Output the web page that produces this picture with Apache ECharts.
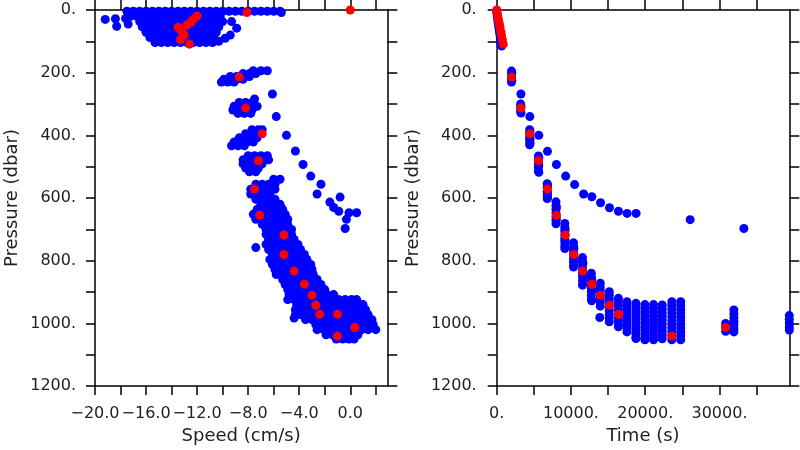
<!DOCTYPE html>
<html>
<head>
<meta charset="utf-8">
<script src="https://cdn.jsdelivr.net/npm/echarts@6/dist/echarts.min.js"></script>
<style>
html,body{margin:0;padding:0;background:#fff;}
#c{width:800px;height:450px;}
</style>
</head>
<body>
<div id="c"></div>
<script>
// ---- tick values / labels ----
const speedTicks = [-20,-18,-16,-14,-12,-10,-8,-6,-4,-2,0,2];
const speedLabels = [-20,-16,-12,-8,-4,0];
const pressureTicks = [0,100,200,300,400,500,600,700,800,900,1000,1100,1200];
const pressureLabels = [0,200,400,600,800,1000,1200];
const timeTicks = [0,5000,10000,15000,20000,25000,30000,35000];
const timeLabels = [0,10000,20000,30000];

// ---- blue: speed vs pressure, rows [pressure, speeds...] ----
const speedRowsBlue = [
 [4, -17.5,-17,-16.5,-16,-15.5,-15,-14.5,-14,-13.5,-13,-12.5,-12,-11.5,-11,-10.5,-10,-9.5,-9,-8.5,-8,-7.5,-7,-6.5,-6,-5.5],
 [20, -17.2,-16.7,-16.2,-15.7,-15.2,-14.7,-14.2,-13.7,-13.2,-12.7,-12.2,-11.7,-11.2,-10.7,-10.2],
 [37, -16.5,-16,-15.5,-15,-14.5,-14,-13.5,-13,-12.5,-12,-11.5,-11,-10.5,-10],
 [54, -16.3,-15.8,-15.3,-14.8,-14.3,-13.8,-13.3,-12.8,-12.3,-11.8,-11.3,-10.8,-10.3],
 [71, -16,-15.5,-15,-14.5,-14,-13.5,-13,-12.5,-12,-11.5,-11,-10.5],
 [88, -15.7,-15.2,-14.7,-14.2,-13.7,-13.2,-12.7,-12.2,-11.7,-11.2,-10.7],
 [104, -15.3,-14.8,-14.3,-13.8,-13.3,-12.8,-12.3,-11.8,-11.3,-10.8],
 [194, -7.6,-7.0,-6.5],
 [203, -8.4,-7.9,-7.4],
 [212, -9.4,-8.9,-8.4,-7.9],
 [221, -9.9,-9.4,-8.9,-8.4],
 [230, -10.1,-9.6,-9.1],
 [268, -6.1],
 [284, -7.5],
 [295, -8.7,-8.2,-7.7],
 [307, -9.1,-8.6,-8.1,-7.6,-7.3],
 [319, -9.2,-8.7,-8.2,-7.7],
 [330, -8.8,-8.3,-7.8],
 [340, -5.8],
 [382, -7.7,-7.2,-6.9],
 [395, -8.2,-7.7,-7.2],
 [400, -5.0],
 [408, -8.7,-8.2,-7.7,-7.3],
 [421, -9.1,-8.6,-8.1,-7.6],
 [433, -9.3,-8.8,-8.3],
 [450, -4.3],
 [465, -8.0,-7.5,-7.0,-6.5],
 [478, -8.4,-7.9,-7.4,-6.9,-6.4],
 [491, -8.4,-7.9,-7.4,-6.9],
 [493, -3.7],
 [504, -8.2,-7.7,-7.2],
 [516, -7.9,-7.4],
 [530, -3.1],
 [540, -6.0,-5.5],
 [556, -7.4,-6.9,-6.4,-5.9,-2.3],
 [572, -7.8,-7.3,-6.8,-6.3,-5.9],
 [587, -7.8,-7.3,-6.8,-6.3,-2.6],
 [597, -0.8],
 [604, -7.4,-6.9,-6.4,-5.9],
 [613, -1.6],
 [620, -7.0,-6.5,-6.0,-5.5],
 [630, -1.3],
 [636, -7.3,-6.8,-6.3,-5.8,-5.3],
 [642, -0.9],
 [647, -0.1,0.5],
 [652, -7.6,-7.1,-6.6,-6.1,-5.6,-5.1],
 [668, -7.4,-6.9,-6.4,-5.9,-5.4,-4.9,-0.3],
 [684, -6.9,-6.4,-5.9,-5.4,-4.9],
 [697, -0.4],
 [700, -6.6,-6.1,-5.6,-5.1,-4.6],
 [716, -6.6,-6.1,-5.6,-5.1,-4.6],
 [732, -6.4,-5.9,-5.4,-4.9,-4.4],
 [748, -6.6,-6.1,-5.6,-5.1,-4.6,-4.1],
 [758, -7.4],
 [764, -6.4,-5.9,-5.4,-4.9,-4.4,-3.9],
 [780, -6.1,-5.6,-5.1,-4.6,-4.1,-3.6],
 [796, -6.3,-5.8,-5.3,-4.8,-4.3,-3.8,-3.4],
 [812, -6.1,-5.6,-5.1,-4.6,-4.1,-3.6,-3.1],
 [828, -5.9,-5.4,-4.9,-4.4,-3.9,-3.4,-3.0],
 [844, -5.8,-5.3,-4.8,-4.3,-3.8,-3.3,-2.9],
 [860, -5.3,-4.8,-4.3,-3.8,-3.3,-2.8,-2.6],
 [876, -5.1,-4.6,-4.1,-3.6,-3.1,-2.6,-2.3],
 [892, -4.9,-4.4,-3.9,-3.4,-2.9,-2.4,-2.0],
 [908, -4.8,-4.3,-3.8,-3.3,-2.8,-2.3,-1.8,-1.3],
 [924, -4.9,-4.4,-3.9,-3.4,-2.9,-2.4,-1.9,-1.4,-0.9,-0.4,0.1,0.5],
 [940, -4.2,-3.7,-3.2,-2.7,-2.2,-1.7,-1.2,-0.7,-0.2,0.3,0.8,1.0],
 [956, -4.3,-3.8,-3.3,-2.8,-2.3,-1.8,-1.3,-0.8,-0.3,0.2,0.7,1.2],
 [972, -4.3,-3.9,-3.4,-2.9,-2.4,-1.9,-1.4,-0.9,-0.4,0.1,0.6,1.1,1.4],
 [983, -4.4],
 [988, -3.5,-3.0,-2.5,-2.0,-1.5,-1.0,-0.5,0.0,0.5,1.0,1.4,1.7],
 [1004, -2.7,-2.2,-1.7,-1.2,-0.7,-0.2,0.3,0.8,1.3,1.8],
 [1020, -2.6,-2.1,-1.6,-1.1,-0.6,-0.1,0.4,0.9,1.4,2.0],
 [1036, -1.9,-1.4,-0.9,-0.4,0.1,0.6],
 [1050, -1.1,-0.6,-0.1,0.3]
];
// isolated blue [speed, pressure]
const speedIsolatedBlue = [[-19.2,30],[-18.4,28],[-18.3,52],[-17.4,45],[-17.6,27],[-9.3,37],[-8.9,58],[-9.4,80],[-9.8,90],[-10.3,100],[-5.4,8]];

// ---- blue: time vs pressure, columns [time, pressures...] ----
const timeColumnsBlue = [
 [1990, 195,207,219,230],
 [2040, 201,225],
 [3220, 300,312,324],
 [3270, 306,329],
 [4440, 382,394,406,418,430],
 [4490, 388,412,425],
 [5620, 466,478,490,502,514],
 [5670, 472,496,518],
 [6800, 554,566,578,590,602],
 [6850, 560,584,598],
 [7980, 612,624,636,648,660,672,682],
 [8030, 630,666],
 [9170, 681,693,705,717,729,741,753,761],
 [9210, 700,735],
 [10350, 743,755,767,779,791,803,815,820],
 [10400, 760,797],
 [11560, 790,802,814,826,838,850,862,874,878],
 [11610, 808,845],
 [12750, 840,852,864,876,888,900,912,924],
 [12790, 858,895,928],
 [13950, 872,884,896,908,920,932,945],
 [15160, 899,911,923,935,947,959,971,983,995],
 [16390, 920,932,944,956,968,980,992,1004,1011],
 [17540, 931,943,955,967,979,991,1003,1015,1027],
 [18750, 936,948,960,972,984,996,1008,1020,1032,1044,1048],
 [19960, 940,952,964,976,988,1000,1012,1024,1036,1048,1052],
 [21120, 940,952,964,976,988,1000,1012,1024,1036,1048,1052],
 [22290, 941,953,965,977,989,1001,1013,1025,1037,1049],
 [23580, 931,943,955,967,979,991,1003,1015,1027,1039,1052],
 [24780, 931,943,955,967,979,991,1003,1015,1027,1039,1052],
 [30830, 1000,1012,1025],
 [31940, 957,969,981,993,1005,1017,1027],
 [39400, 975,987,999,1011,1021]
];
// isolated blue [time, pressure]
const timeIsolatedBlue = [[0,2],[30,10],[80,20],[130,30],[190,40],[250,50],[310,60],[380,70],[440,80],[500,90],[560,100],[620,108],[670,115],
 [3260,268],[4464,340],[5670,400],[6836,451],[8043,493],[9290,530],[10496,557],[11703,587],[12815,596],[13981,615],[15188,631],[16394,642],[17561,649],[18767,649],[26046,669],[33284,697],[13880,981]];

// ---- red profile (parallel arrays) ----
const redPressure = [0,8,19,30,40,48,55,69,80,95,109,214,313,395,481,571,655,718,780,833,875,910,942,971,971,1013,1040];
const redSpeed = [0.0,-8.1,-12.0,-12.3,-12.5,-12.8,-13.5,-13.2,-13.0,-13.3,-12.6,-8.7,-8.2,-6.9,-7.2,-7.5,-7.1,-5.2,-5.2,-4.4,-3.6,-3.0,-2.7,-2.4,-1.0,0.35,-1.0];
const redTime = [0,55,140,230,310,380,440,560,650,770,885,2011,3257,4464,5630,6836,8043,9249,10402,11609,12815,13981,15188,16394,16450,30831,23592];

// ---- build tables ----
const leftBlue = [];
speedRowsBlue.forEach(r => { for (let i = 1; i < r.length; i++) leftBlue.push([r[i], r[0]]); });
speedIsolatedBlue.forEach(d => leftBlue.push(d));
const rightBlue = [];
timeColumnsBlue.forEach(c => { for (let i = 1; i < c.length; i++) rightBlue.push([c[0], c[i]]); });
timeIsolatedBlue.forEach(d => rightBlue.push(d));
const leftRed = redSpeed.map((v, i) => [v, redPressure[i]]);
const rightRed = redTime.map((t, i) => [t, redPressure[i]]);

const FONT = 'DejaVu Sans';
const TXT = '#222';
const line = {show: true, onZero: false, lineStyle: {color: '#000', width: 1.5}};
function tick(vals, len) { return {show: true, inside: false, length: len, customValues: vals, lineStyle: {color: '#000', width: 1.5}}; }
function lab(vals, fmt, margin) {
  return {show: true, customValues: vals, formatter: fmt, margin: margin, fontSize: 16, color: TXT, fontFamily: FONT,
          showMinLabel: true, showMaxLabel: true, hideOverlap: false};
}
const fmtSpeed = v => (v < 0 ? '\u2212' : '') + Math.abs(v).toFixed(1);
const fmtDot = v => String(v) + '.';
const nameStyle = {fontSize: 18, color: TXT, fontFamily: FONT};

const SMIN = -20, SMAX = 2.9, PMIN = 0, PMAX = 1200, TMIN = 0, TMAX = 39400;
const DOT = 9;

const option = {
  animation: false,
  backgroundColor: '#fff',
  grid: [
    {left: 95, top: 10, width: 292.3, height: 377.3},
    {left: 496.7, top: 10, width: 292.6, height: 377.3}
  ],
  xAxis: [
    {gridIndex: 0, type: 'value', position: 'bottom', min: SMIN, max: SMAX, axisLine: line, axisTick: tick(speedTicks, 9),
     axisLabel: lab(speedLabels, fmtSpeed, 20), splitLine: {show: false},
     name: 'Speed (cm/s)', nameLocation: 'middle', nameGap: 40, nameTextStyle: nameStyle},
    {gridIndex: 0, type: 'value', position: 'top', min: SMIN, max: SMAX, axisLine: line, axisTick: tick(speedTicks, 10),
     axisLabel: {show: false}, splitLine: {show: false}},
    {gridIndex: 1, type: 'value', position: 'bottom', min: TMIN, max: TMAX, axisLine: line, axisTick: tick(timeTicks, 9),
     axisLabel: lab(timeLabels, fmtDot, 20), splitLine: {show: false},
     name: 'Time (s)', nameLocation: 'middle', nameGap: 40, nameTextStyle: nameStyle},
    {gridIndex: 1, type: 'value', position: 'top', min: TMIN, max: TMAX, axisLine: line, axisTick: tick(timeTicks, 10),
     axisLabel: {show: false}, splitLine: {show: false}}
  ],
  yAxis: [
    {gridIndex: 0, type: 'value', position: 'left', inverse: true, min: PMIN, max: PMAX, axisLine: line, axisTick: tick(pressureTicks, 9),
     axisLabel: lab(pressureLabels, fmtDot, 19), splitLine: {show: false},
     name: 'Pressure (dbar)', nameLocation: 'middle', nameGap: 74, nameTextStyle: nameStyle},
    {gridIndex: 0, type: 'value', position: 'right', inverse: true, min: PMIN, max: PMAX, axisLine: line, axisTick: tick(pressureTicks, 10),
     axisLabel: {show: false}, splitLine: {show: false}},
    {gridIndex: 1, type: 'value', position: 'left', inverse: true, min: PMIN, max: PMAX, axisLine: line, axisTick: tick(pressureTicks, 9),
     axisLabel: lab(pressureLabels, fmtDot, 20), splitLine: {show: false},
     name: 'Pressure (dbar)', nameLocation: 'middle', nameGap: 74, nameTextStyle: nameStyle},
    {gridIndex: 1, type: 'value', position: 'right', inverse: true, min: PMIN, max: PMAX, axisLine: line, axisTick: tick(pressureTicks, 10),
     axisLabel: {show: false}, splitLine: {show: false}}
  ],
  series: [
    {type: 'scatter', xAxisIndex: 0, yAxisIndex: 0, data: leftBlue, symbol: 'circle', symbolSize: DOT, clip: true,
     itemStyle: {color: '#0000ff', opacity: 1}, emphasis: {disabled: true}},
    {type: 'scatter', xAxisIndex: 0, yAxisIndex: 0, data: leftRed, symbol: 'circle', symbolSize: DOT, clip: true,
     itemStyle: {color: '#ff0000', opacity: 1}, emphasis: {disabled: true}},
    {type: 'scatter', xAxisIndex: 2, yAxisIndex: 2, data: rightBlue, symbol: 'circle', symbolSize: DOT, clip: true,
     itemStyle: {color: '#0000ff', opacity: 1}, emphasis: {disabled: true}},
    {type: 'scatter', xAxisIndex: 2, yAxisIndex: 2, data: rightRed, symbol: 'circle', symbolSize: DOT, clip: true,
     itemStyle: {color: '#ff0000', opacity: 1}, emphasis: {disabled: true}}
  ]
};
const chart = echarts.init(document.getElementById('c'), null, {renderer: 'canvas'});
chart.setOption(option);
</script>
</body>
</html>
